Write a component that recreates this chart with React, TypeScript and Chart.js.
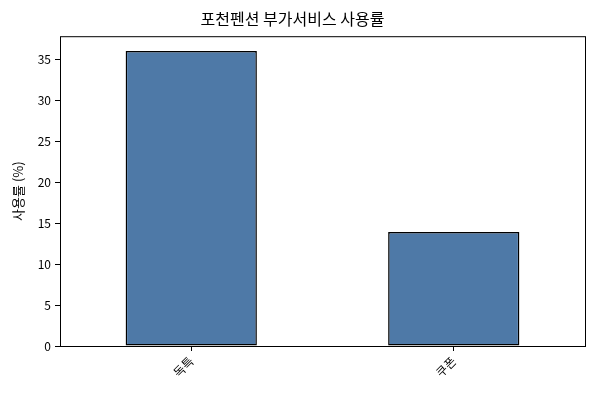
import { useEffect, useRef } from "react";
import { Chart, registerables } from "chart.js";

Chart.register(...registerables);

const categories = ["독특", "쿠폰"];
const usage = [36.0, 13.9];
const yTicks = [0, 5, 10, 15, 20, 25, 30, 35];

const FONT = "'Noto Sans CJK KR', 'Noto Sans', sans-serif";

// draws the black frame around the plot area
const frame = {
  id: "frame",
  afterDatasetsDraw(chart: Chart) {
    const { ctx, chartArea } = chart;
    ctx.save();
    ctx.strokeStyle = "#000";
    ctx.lineWidth = 1;
    ctx.strokeRect(chartArea.left + 0.5, chartArea.top + 0.5, chartArea.right - chartArea.left, chartArea.bottom - chartArea.top);
    ctx.restore();
  },
};

export default function App() {
  const canvasRef = useRef<HTMLCanvasElement | null>(null);

  useEffect(() => {
    document.body.style.margin = "0";
    if (!canvasRef.current) return;
    const chart = new Chart(canvasRef.current, {
      type: "bar",
      data: {
        labels: categories,
        datasets: [
          {
            data: usage,
            backgroundColor: "#4e79a7",
            borderColor: "#000",
            borderWidth: 1.5,
            borderSkipped: false,
            barPercentage: 0.5,
            categoryPercentage: 1,
          },
        ],
      },
      options: {
        animation: false,
        responsive: false,
        devicePixelRatio: 1,
        layout: { padding: { left: 0, right: 15, top: 0, bottom: 0 } },
        plugins: {
          legend: { display: false },
          tooltip: { enabled: false },
          title: {
            display: true,
            text: "포천펜션 부가서비스 사용률",
            color: "#000",
            font: { family: FONT, size: 16, weight: "normal" },
            padding: { top: 9, bottom: 8 },
          },
        },
        scales: {
          x: {
            grid: { display: true, drawOnChartArea: false, offset: false, color: "#000", tickLength: 5 },
            border: { display: false },
            ticks: {
              color: "#000",
              font: { family: FONT, size: 12 },
              maxRotation: 45,
              minRotation: 45,
              padding: 3,
            },
            afterFit: (s: any) => {
              s.height = 54;
            },
          },
          y: {
            min: 0,
            max: 37.8,
            afterBuildTicks: (s: any) => {
              s.ticks = yTicks.map((v) => ({ value: v }));
            },
            grid: { display: true, drawOnChartArea: false, color: "#000", tickLength: 5 },
            border: { display: false },
            ticks: { color: "#000", font: { family: FONT, size: 12 }, padding: 4 },
            title: {
              display: true,
              text: "사용률 (%)",
              color: "#000",
              font: { family: FONT, size: 13 },
              padding: { top: 10, bottom: 4 },
            },
            afterFit: (s: any) => {
              s.width = 60;
            },
          },
        },
      },
      plugins: [frame],
    });
    return () => chart.destroy();
  }, []);

  return (
    <div style={{ width: 600, height: 400, background: "#fff" }}>
      <canvas ref={canvasRef} width={600} height={400} />
    </div>
  );
}
